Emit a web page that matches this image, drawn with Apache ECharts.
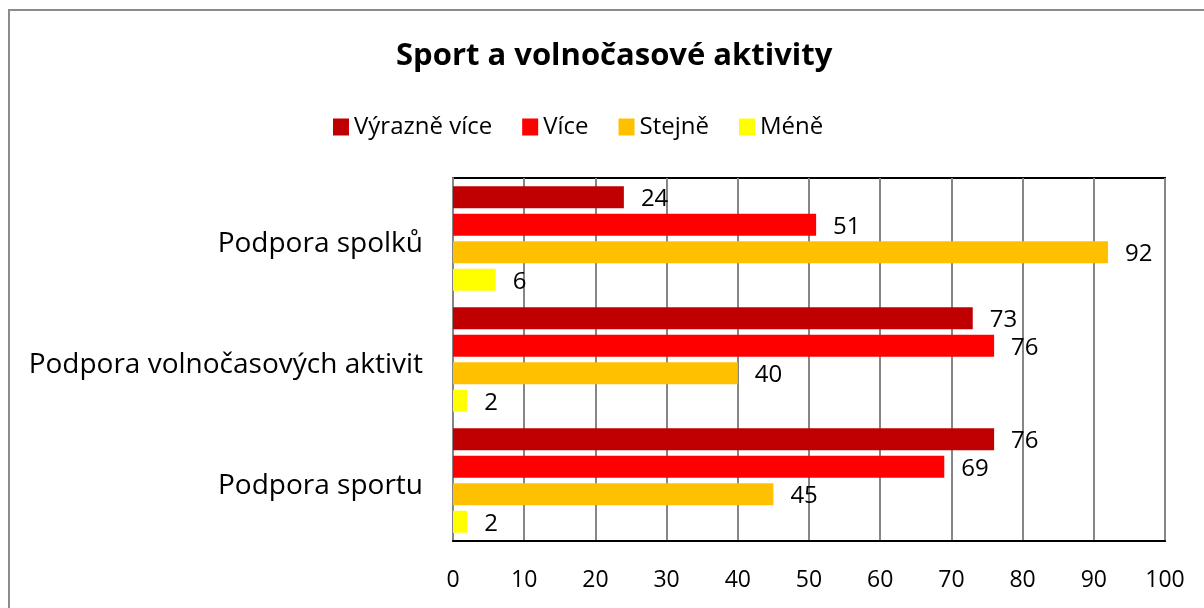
<!DOCTYPE html>
<html>
<head>
<meta charset="utf-8">
<script src="https://cdn.jsdelivr.net/npm/echarts@6/dist/echarts.min.js"></script>
<style>
  html, body { margin: 0; padding: 0; background: #fff; }
  #main { width: 1204px; height: 608px; }
</style>
</head>
<body>
<div id="main"></div>
<script>
// kategorie shora dolu
const categories = ['Podpora spolků', 'Podpora volnočasových aktivit', 'Podpora sportu'];
const seriesNames = ['Výrazně více', 'Více', 'Stejně', 'Méně'];
const vyrazneVice = [24, 73, 76];
const vice = [51, 76, 69];
const stejne = [92, 40, 45];
const mene = [6, 2, 2];
const xTicks = { min: 0, max: 100, interval: 10 };

const colors = ['#C00000', '#FF0000', '#FFC000', '#FFFF00'];
const font = '"Open Sans", sans-serif';

const chart = echarts.init(document.getElementById('main'));

function barSeries(name, data) {
	return {
		name: name,
		type: 'bar',
		data: data,
		barWidth: 22,
		barGap: '25%',
		label: {
			show: true,
			position: 'right',
			distance: 17,
			offset: [0, 2],
			color: '#000',
			fontSize: 24,
			fontFamily: font
		}
	};
}

const option = {
	backgroundColor: '#ffffff',
	color: colors,
	title: {
		text: 'Sport a volnočasové aktivity',
		left: 391,
		top: 36,
		textStyle: { fontSize: 31, fontWeight: 'bold', color: '#000', fontFamily: font }
	},
	legend: {
		top: 110,
		left: 328,
		itemWidth: 16,
		itemHeight: 17,
		itemGap: 30,
		icon: 'rect',
		textStyle: { fontSize: 24, color: '#000', fontFamily: font }
	},
	graphic: [{
		type: 'rect',
		shape: { x: 9, y: 10, width: 1220, height: 640 },
		style: { fill: 'none', stroke: '#8c8c8c', lineWidth: 2 },
		silent: true,
		z: -1
	}],
	grid: {
		left: 453,
		right: 39,
		top: 178,
		bottom: 67,
		show: true,
		borderColor: '#000',
		borderWidth: 2
	},
	xAxis: {
		type: 'value',
		min: xTicks.min,
		max: xTicks.max,
		interval: xTicks.interval,
		axisLine: { show: true, lineStyle: { color: '#000', width: 2 } },
		axisTick: { show: false },
		axisLabel: { fontSize: 23, color: '#000', margin: 28, fontFamily: font },
		splitLine: { show: true, lineStyle: { color: '#868686', width: 2 } }
	},
	yAxis: {
		type: 'category',
		inverse: true,
		data: categories,
		axisLine: { show: true, lineStyle: { color: '#868686', width: 2 } },
		axisTick: { show: false },
		axisLabel: {
			margin: 30,
			formatter: function (v) { return '{c|' + v + '}'; },
			rich: {
				c: { fontSize: 28, color: '#000', fontFamily: font, padding: [12, 0, 0, 0] }
			}
		}
	},
	series: [
		barSeries(seriesNames[0], vyrazneVice),
		barSeries(seriesNames[1], vice),
		barSeries(seriesNames[2], stejne),
		barSeries(seriesNames[3], mene)
	]
};

chart.setOption(option);
</script>
</body>
</html>
